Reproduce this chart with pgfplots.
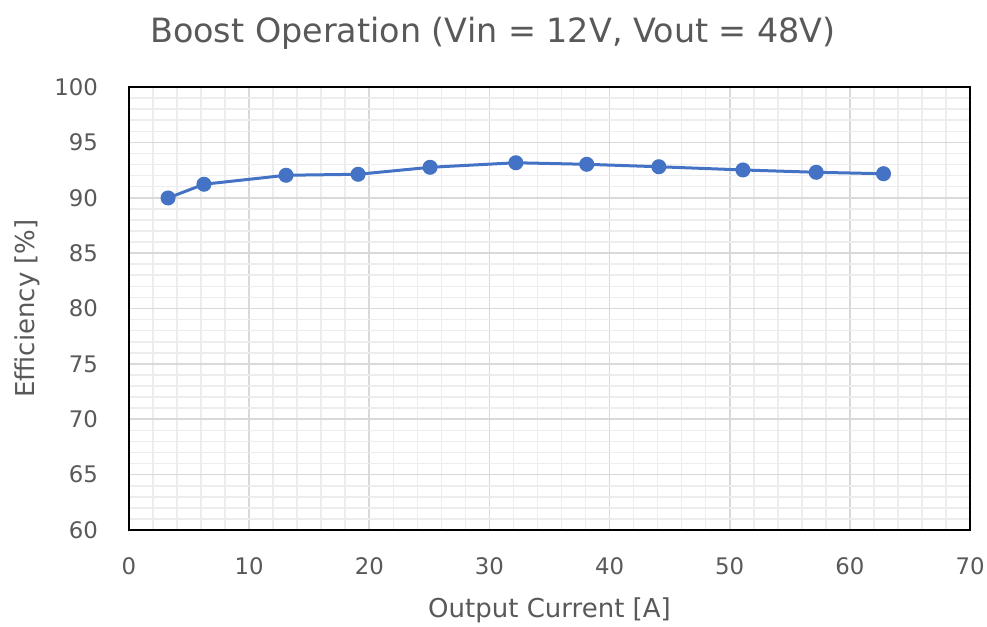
\documentclass[border=0pt]{standalone}
\usepackage{pgfplots}
\pgfplotsset{compat=1.18}
\usepackage{fontspec}
\setmainfont{DejaVu Sans}
\definecolor{txt}{HTML}{595959}
\definecolor{ser}{HTML}{4472C4}
\definecolor{majg}{HTML}{D9D9D9}
\definecolor{ming}{HTML}{EDEDED}
\begin{document}
\begin{tikzpicture}
\begin{axis}[
  name=ax,
  scale only axis,
  width=420.5pt, height=221.5pt,
  xmin=0, xmax=70, ymin=60, ymax=100,
  xtick={0,10,...,70}, ytick={60,65,...,100},
  minor x tick num=4, minor y tick num=4,
  grid=both,
  major grid style={majg, line width=0.8pt},
  minor grid style={ming, line width=0.8pt},
  axis line style={black, line width=1.1pt},
  major tick length=0pt, minor tick length=0pt,
  tick label style={txt, font=\fontsize{11.4}{13}\selectfont},
  /pgf/number format/assume math mode=true,
  xticklabel style={yshift=-10.5pt},
  yticklabel style={xshift=-12pt},
  clip=false,
]
\addplot[ser, line width=1.5pt, mark=*, mark size=3pt, mark options={fill=ser, draw=ser}]
coordinates {
(3.25,89.98) (6.24,91.22) (13.07,92.03) (19.07,92.12) (25.06,92.75)
(32.2,93.16) (38.1,93.02) (44.1,92.80) (51.1,92.51) (57.2,92.30) (62.8,92.17)
};
\end{axis}
\node[txt, font=\fontsize{16.7}{19}\selectfont] at ([xshift=-28.25pt,yshift=27pt]ax.north) {Boost Operation (Vin = 12V, Vout = 48V)};
\node[txt, font=\fontsize{13}{15}\selectfont] at ([yshift=-40pt]ax.south) {Output Current [A]};
\node[txt, font=\fontsize{13}{15}\selectfont, rotate=90] at ([xshift=-51pt]ax.west) {Efficiency [\%]};
\pgfresetboundingbox
\path ([xshift=-64.5pt,yshift=-48pt]ax.south west) rectangle ([xshift=8.5pt,yshift=43.5pt]ax.north east);
\end{tikzpicture}
\end{document}
